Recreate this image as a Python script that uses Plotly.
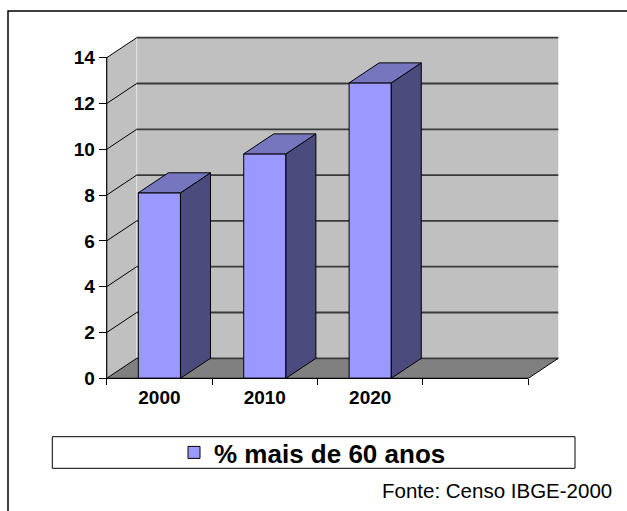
import plotly.graph_objects as go

# ---------------- data ----------------
categories = ["2000", "2010", "2020"]
values = [8.1, 9.8, 12.9]
series_name = "% mais de 60 anos"
y_ticks = [0, 2, 4, 6, 8, 10, 12, 14]
n_slots = 4  # category slots on the floor (last one empty)
source_text = "Fonte: Censo IBGE-2000"

# ---------------- layout constants (pixels) ----------------
W, H = 627, 511
L, R, T, B = 100, 570, 30, 384          # plot area
X0, X4 = 106.7, 528.3                   # front x axis ends
Y0, Y14 = 378.3, 57.7                   # front y axis 0 and 14
kx = (X4 - X0) / n_slots
ky = (Y0 - Y14) / y_ticks[-1]
DX = 30 / kx                            # depth offset in data units
DY = 20 / ky
XMAX = n_slots
YMAX = y_ticks[-1]

xrange = [(L - X0) / kx, (R - X0) / kx]
yrange = [(Y0 - B) / ky, (Y0 - T) / ky]


def px_x(p):
    return (p - L) / (R - L)


def px_y(p):
    return (B - p) / (B - T)


FONT = "Liberation Sans, Arial, sans-serif"
WALL = "#C0C0C0"
FLOOR = "#808080"
FRONT = "#9999FF"
SIDE = "#4B4B7E"
TOP = "#7676BE"

shapes = []


def poly(pts, fill, line_color, line_width, layer="below"):
    path = "M " + " L ".join(f"{x},{y}" for x, y in pts) + " Z"
    shapes.append(dict(type="path", path=path, xref="x", yref="y",
                       fillcolor=fill, line=dict(color=line_color, width=line_width),
                       layer=layer))


def seg(x0, y0, x1, y1, color, width, layer="below"):
    shapes.append(dict(type="line", x0=x0, y0=y0, x1=x1, y1=y1, xref="x", yref="y",
                       line=dict(color=color, width=width), layer=layer))


# side wall (left)
poly([(0, 0), (0, YMAX), (DX, YMAX + DY), (DX, DY)], WALL, WALL, 0)
# back wall
poly([(DX, DY), (XMAX + DX, DY), (XMAX + DX, YMAX + DY), (DX, YMAX + DY)], WALL, WALL, 0)
# floor
poly([(0, 0), (XMAX, 0), (XMAX + DX, DY), (DX, DY)], FLOOR, FLOOR, 0)
# back wall left edge highlight
seg(DX, DY, DX, YMAX + DY, "#E4E4E4", 1)
# gridlines
for v in y_ticks:
    seg(DX, v + DY, XMAX + DX, v + DY, "#3A3A3A", 1.8)
    seg(0, v, DX, v + DY, "#000000", 1)
# floor right diagonal
seg(XMAX, 0, XMAX + DX, DY, "#000000", 1)
# front axis lines (above)
seg(0, 0, 0, YMAX, "#000000", 1.2, layer="above")
seg(0, 0, XMAX, 0, "#000000", 1.2, layer="above")

# ---------------- bars ----------------
bw = 0.4
xc = [i + 0.5 for i in range(len(categories))]

fig = go.Figure()
fig.add_trace(go.Bar(
    x=xc, y=values, width=bw, name=series_name,
    marker=dict(color=FRONT, line=dict(color="#000000", width=1)),
    showlegend=True, hoverinfo="skip",
))

sx, sy, tx, ty = [], [], [], []
for c, v in zip(xc, values):
    xl, xr = c - bw / 2, c + bw / 2
    sx += [xr, xr + DX, xr + DX, xr, xr, None]
    sy += [0, DY, v + DY, v, 0, None]
    tx += [xl, xr, xr + DX, xl + DX, xl, None]
    ty += [v, v, v + DY, v + DY, v, None]

fig.add_trace(go.Scatter(x=sx, y=sy, mode="lines", fill="toself", fillcolor=SIDE,
                         line=dict(color="#000000", width=1), showlegend=False,
                         hoverinfo="skip"))
fig.add_trace(go.Scatter(x=tx, y=ty, mode="lines", fill="toself", fillcolor=TOP,
                         line=dict(color="#000000", width=1), showlegend=False,
                         hoverinfo="skip"))

# outer border and legend box (paper)
shapes.append(dict(type="rect", xref="paper", yref="paper",
                   x0=px_x(8), x1=px_x(700), y0=px_y(11), y1=px_y(600),
                   line=dict(color="#000000", width=1.5), fillcolor="rgba(0,0,0,0)",
                   layer="below"))
shapes.append(dict(type="rect", xref="paper", yref="paper",
                   x0=px_x(52.3), x1=px_x(575), y0=px_y(436.7), y1=px_y(468.3),
                   line=dict(color="#000000", width=1), fillcolor="#FFFFFF",
                   layer="below"))

fig.update_layout(
    width=W, height=H,
    margin=dict(l=L, r=W - R, t=T, b=H - B, pad=0),
    paper_bgcolor="#FFFFFF", plot_bgcolor="rgba(0,0,0,0)",
    shapes=shapes,
    showlegend=True,
    legend=dict(x=px_x(174), xanchor="left", y=px_y(452.5), yanchor="middle",
                bgcolor="rgba(0,0,0,0)", borderwidth=0,
                font=dict(family=FONT, size=26, color="#000000", weight="bold")),
    xaxis=dict(range=xrange, showgrid=False, zeroline=False, showline=False,
               anchor="free", position=px_y(Y0),
               tickmode="array", tickvals=xc, ticktext=categories,
               ticks="outside", ticklen=2, tickcolor="rgba(0,0,0,0)",
               tickfont=dict(family=FONT, size=19, color="#000000", weight="bold"),
               minor=dict(tickmode="array", tickvals=list(range(n_slots + 1)),
                          ticks="outside", ticklen=6, tickcolor="#000000", tickwidth=1,
                          showgrid=False),
               fixedrange=True),
    yaxis=dict(range=yrange, showgrid=False, zeroline=False, showline=False,
               anchor="free", position=px_x(X0),
               tickmode="array", tickvals=y_ticks,
               ticks="outside", ticklen=8, tickcolor="#000000", tickwidth=1,
               tickfont=dict(family=FONT, size=19, color="#000000", weight="bold"),
               fixedrange=True),
    annotations=[dict(text=source_text, xref="paper", yref="paper",
                      x=px_x(614), y=px_y(490), xanchor="right", yanchor="middle",
                      showarrow=False,
                      font=dict(family=FONT, size=20.5, color="#000000"))],
)

fig.write_html("out.html", config={"displayModeBar": False},
               post_script="document.body.style.margin='0';")
